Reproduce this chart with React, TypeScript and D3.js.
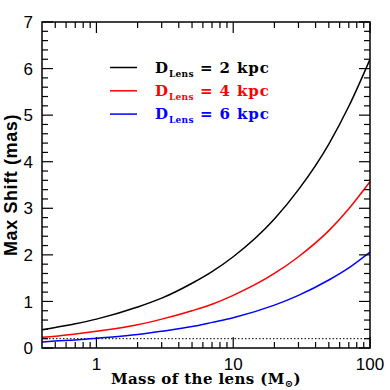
import React from 'react';
import * as d3 from 'd3';

// lens mass (solar masses) sampled along the curves
const masses = [0.4, 0.5, 0.7, 1, 2, 3, 5, 7, 10, 20, 30, 50, 70, 100];
// max astrometric shift (mas)
const shift2kpc = [0.39, 0.44, 0.52, 0.62, 0.88, 1.07, 1.39, 1.64, 1.96, 2.77, 3.4, 4.38, 5.19, 6.2];
const shift4kpc = [0.23, 0.25, 0.3, 0.36, 0.5, 0.62, 0.8, 0.94, 1.13, 1.6, 1.96, 2.52, 2.99, 3.57];
const shift6kpc = [0.13, 0.15, 0.17, 0.21, 0.29, 0.36, 0.46, 0.55, 0.65, 0.92, 1.13, 1.46, 1.72, 2.06];
const threshold = 0.2;

const seriesNames = ['2 kpc', '4 kpc', '6 kpc'];
const seriesColors = ['#000000', '#ff0000', '#0000ff'];

const xMajor = [1, 10, 100];
const xMinor = [0.5, 0.6, 0.7, 0.8, 0.9, 2, 3, 4, 5, 6, 7, 8, 9, 20, 30, 40, 50, 60, 70, 80, 90];
const yMajor = [0, 1, 2, 3, 4, 5, 6, 7];

const W = 390;
const H = 390;
const margin = { top: 22, right: 20, bottom: 42, left: 42 };

export default function App() {
    const x = d3.scaleLog().domain([0.4, 100]).range([margin.left, W - margin.right]);
    const y = d3.scaleLinear().domain([0, 7]).range([H - margin.bottom, margin.top]);
    const [x0, x1] = x.range();
    const [y0, y1] = y.range();

    const yMinor = d3.range(0, 7.001, 0.2).filter((v) => Math.abs(v - Math.round(v)) > 0.01);

    const line = d3
        .line<[number, number]>()
        .x((d) => x(d[0]))
        .y((d) => y(d[1]))
        .curve(d3.curveMonotoneX);

    const allSeries = [shift2kpc, shift4kpc, shift6kpc];

    const majLen = 11;
    const minLen = 6;

    return (
        <div style={{ position: 'absolute', left: 0, top: 0 }}>
            <svg width={W} height={H} style={{ display: 'block', background: '#fff' }}>
                <defs>
                    <clipPath id="plot">
                        <rect x={x0} y={y1} width={x1 - x0} height={y0 - y1} />
                    </clipPath>
                </defs>

                {/* threshold */}
                <line
                    x1={x0}
                    x2={x1}
                    y1={y(threshold)}
                    y2={y(threshold)}
                    stroke="#000"
                    strokeWidth={1}
                    strokeDasharray="1.5 2"
                />

                {/* curves */}
                <g clipPath="url(#plot)">
                    {allSeries.map((s, i) => (
                        <path
                            key={i}
                            d={line(masses.map((m, j) => [m, s[j]] as [number, number])) || ''}
                            fill="none"
                            stroke={seriesColors[i]}
                            strokeWidth={1.5}
                        />
                    ))}
                </g>

                {/* ticks */}
                <g stroke="#000" strokeWidth={1.2}>
                    {xMajor.map((v) => (
                        <g key={'xM' + v}>
                            <line x1={x(v)} x2={x(v)} y1={y0} y2={y0 - majLen} />
                            <line x1={x(v)} x2={x(v)} y1={y1} y2={y1 + majLen} />
                        </g>
                    ))}
                    {xMinor.map((v) => (
                        <g key={'xm' + v}>
                            <line x1={x(v)} x2={x(v)} y1={y0} y2={y0 - minLen} />
                            <line x1={x(v)} x2={x(v)} y1={y1} y2={y1 + minLen} />
                        </g>
                    ))}
                    {yMajor.map((v) => (
                        <g key={'yM' + v}>
                            <line x1={x0} x2={x0 + majLen} y1={y(v)} y2={y(v)} />
                            <line x1={x1} x2={x1 - majLen} y1={y(v)} y2={y(v)} />
                        </g>
                    ))}
                    {yMinor.map((v, i) => (
                        <g key={'ym' + i}>
                            <line x1={x0} x2={x0 + minLen} y1={y(v)} y2={y(v)} />
                            <line x1={x1} x2={x1 - minLen} y1={y(v)} y2={y(v)} />
                        </g>
                    ))}
                </g>

                {/* frame */}
                <rect x={x0} y={y1} width={x1 - x0} height={y0 - y1} fill="none" stroke="#000" strokeWidth={1.5} />

                {/* tick labels */}
                <g fontFamily="'Liberation Sans', Arial, sans-serif" fontSize={17} fill="#000">
                    {yMajor.map((v) => (
                        <text key={'yl' + v} x={x0 - 9} y={y(v)} dy="0.36em" textAnchor="end">
                            {v}
                        </text>
                    ))}
                    {xMajor.map((v) => (
                        <text key={'xl' + v} x={x(v)} y={y0 + 22} textAnchor="middle">
                            {v}
                        </text>
                    ))}
                </g>

                {/* axis titles */}
                <text
                    transform={`translate(17,${(y0 + y1) / 2}) rotate(-90)`}
                    textAnchor="middle"
                    fontFamily="'Liberation Sans', Arial, sans-serif"
                    fontWeight="bold"
                    fontSize={18}
                    letterSpacing={0.6}
                >
                    Max Shift (mas)
                </text>
                <text
                    x={206}
                    y={384}
                    textAnchor="middle"
                    fontFamily="'DejaVu Serif', serif"
                    fontWeight="bold"
                    fontSize={15}
                    letterSpacing={0.4}
                >
                    Mass of the lens (M
                    <tspan fontSize={10} dy={3}>⊙</tspan>
                    <tspan dy={-3}>)</tspan>
                </text>

                {/* legend */}
                {seriesNames.map((name, i) => {
                    const ly = 67.5 + i * 23.3;
                    return (
                        <g key={name}>
                            <line x1={110} x2={137} y1={ly} y2={ly} stroke={seriesColors[i]} strokeWidth={1.5} />
                            <text
                                x={155}
                                y={ly + 5}
                                fill={seriesColors[i]}
                                fontFamily="'DejaVu Serif', serif"
                                fontWeight="bold"
                                fontSize={15}
                                letterSpacing={0.9}
                            >
                                D
                                <tspan fontSize={9} dy={4} letterSpacing={0.3}>Lens</tspan>
                                <tspan dy={-4}>{' = ' + name}</tspan>
                            </text>
                        </g>
                    );
                })}
            </svg>
        </div>
    );
}
